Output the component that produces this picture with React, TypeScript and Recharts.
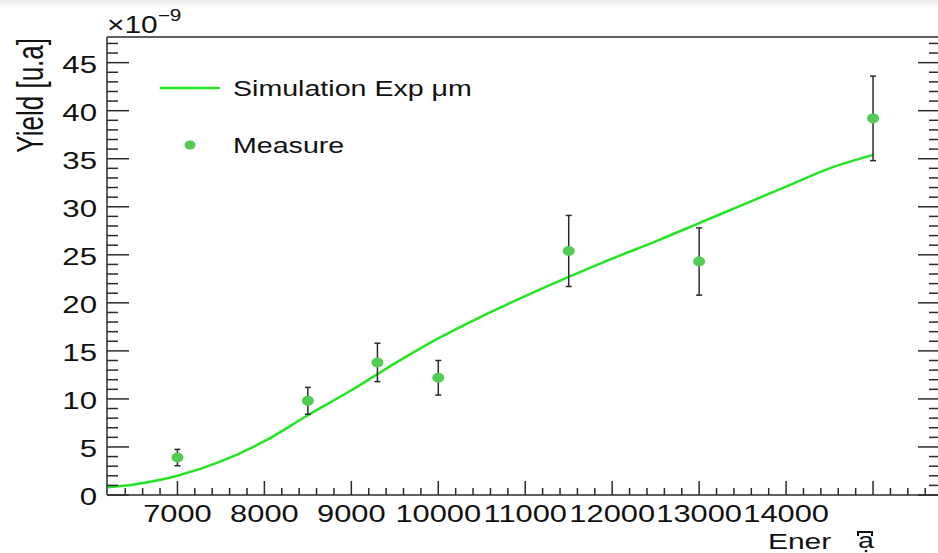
import React from "react";
import { ComposedChart, Line, Scatter, ErrorBar, XAxis, YAxis, Legend } from "recharts";

// simulation curve (units of 1e-9)
const simEnergy = [6200, 6500, 7000, 7500, 8000, 8500, 9000, 9500, 10000, 10500, 11000, 11500, 12000, 12500, 13000, 13500, 14000, 14500, 15000];
const simYield = [0.8, 1.1, 2.0, 3.5, 5.6, 8.3, 10.9, 13.7, 16.3, 18.6, 20.7, 22.7, 24.6, 26.4, 28.3, 30.2, 32.1, 34.0, 35.4];

// measured points with symmetric errors
const measEnergy = [7000, 8500, 9300, 10000, 11500, 13000, 15000];
const measYield = [3.9, 9.8, 13.8, 12.2, 25.4, 24.3, 39.2];
const measError = [0.85, 1.4, 2.0, 1.8, 3.7, 3.5, 4.4];

const xLabels = [7000, 8000, 9000, 10000, 11000, 12000, 13000, 14000];
const yLabels = [0, 5, 10, 15, 20, 25, 30, 35, 40, 45];

const simData = simEnergy.map((x, i) => ({ x, y: simYield[i] }));
const measData = measEnergy.map((x, i) => ({ x, y: measYield[i], err: measError[i] }));

// minor tick positions (ROOT style: 5 divisions per major)
const xTicks: number[] = [];
for (let v = 6400; v <= 15600; v += 200) xTicks.push(v);
const yTicks: number[] = [];
for (let v = 0; v <= 47; v += 1) yTicks.push(v);

const AXIS = "#2b2b2b";
const SIM = "#22e622";
const MEAS = "#52cc52";
const FONT = "'Liberation Sans', Arial, Helvetica, sans-serif";
const SX = 1.3; // text in the reference is stretched horizontally

const txt = (x: number, y: number, size: number, anchor: string, s: React.ReactNode, rot = 0, sx = SX) => (
  <text
    transform={`translate(${x},${y}) scale(${sx},1)${rot ? ` rotate(${rot})` : ""}`}
    textAnchor={anchor as any}
    fontSize={size}
    fontFamily={FONT}
    fill="#111"
  >
    {s}
  </text>
);

const BottomTick = ({ x, y, payload }: any) => {
  const v = payload.value;
  const major = v % 1000 === 0;
  return (
    <g>
      <line x1={x} x2={x} y1={y} y2={y - (major ? 14 : 7)} stroke={AXIS} strokeWidth={1.5} />
      {xLabels.includes(v) && txt(x, y + 27, 23, "middle", String(v), 0, 1.34)}
    </g>
  );
};

const TopTick = ({ x, y, payload }: any) => {
  const major = payload.value % 1000 === 0;
  return <line x1={x} x2={x} y1={y} y2={y + (major ? 14 : 7)} stroke={AXIS} strokeWidth={1.5} />;
};

const LeftTick = ({ x, y, payload }: any) => {
  const v = payload.value;
  const major = v % 5 === 0;
  return (
    <g>
      <line x1={x} x2={x + (major ? 22 : 11)} y1={y} y2={y} stroke={AXIS} strokeWidth={1.5} />
      {yLabels.includes(v) && txt(x - 10, y + 10, 24, "end", String(v))}
    </g>
  );
};

const RightTick = ({ x, y, payload }: any) => {
  const major = payload.value % 5 === 0;
  return <line x1={x} x2={x - (major ? 22 : 11)} y1={y} y2={y} stroke={AXIS} strokeWidth={1.5} />;
};

const MeasDot = ({ cx, cy }: any) => <ellipse cx={cx} cy={cy} rx={6} ry={5} fill={MEAS} />;

const LegendBox = ({ payload }: any) => {
  const items = [...(payload || [])].sort((a: any, b: any) => (a.type === "line" ? -1 : 0) - (b.type === "line" ? -1 : 0));
  return (
    <svg width={360} height={100} style={{ display: "block" }}>
      {items.map((p: any, i: number) => {
        const cy = 28 + i * 57;
        return (
          <g key={i}>
            {p.type === "line" ? (
              <line x1={10} x2={70} y1={cy} y2={cy} stroke={SIM} strokeWidth={2.5} />
            ) : (
              <ellipse cx={40} cy={cy} rx={5.5} ry={4.5} fill={MEAS} />
            )}
            {txt(83, cy + 8, 22, "start", p.value)}
          </g>
        );
      })}
    </svg>
  );
};

export default function App() {
  return (
    <div style={{ position: "absolute", left: 0, top: 0, width: 938, height: 553, overflow: "hidden", background: "#fff" }}>
      <div style={{ position: "absolute", left: 0, top: 0, width: 938, height: 9, background: "linear-gradient(#ececec, #ffffff)" }} />
      <ComposedChart width={942} height={553} margin={{ top: 36, right: 1, bottom: 57, left: 106 }}>
        <XAxis xAxisId="b" dataKey="x" type="number" domain={[6190, 15770]} allowDataOverflow ticks={xTicks} interval={0}
          height={1} tickSize={0} tickMargin={0} tickLine={false} tick={BottomTick} axisLine={{ stroke: AXIS, strokeWidth: 1.5 }} />
        <XAxis xAxisId="t" orientation="top" type="number" domain={[6190, 15770]} allowDataOverflow ticks={xTicks} interval={0}
          height={1} tickSize={0} tickMargin={0} tickLine={false} tick={TopTick} axisLine={{ stroke: AXIS, strokeWidth: 1.5 }} />
        <YAxis yAxisId="l" dataKey="y" type="number" domain={[0, 47.67]} allowDataOverflow ticks={yTicks} interval={0}
          width={1} tickSize={0} tickMargin={0} tickLine={false} tick={LeftTick} axisLine={{ stroke: AXIS, strokeWidth: 1.5 }} />
        <YAxis yAxisId="r" orientation="right" type="number" domain={[0, 47.67]} allowDataOverflow ticks={yTicks} interval={0}
          width={1} tickSize={0} tickMargin={0} tickLine={false} tick={RightTick} axisLine={{ stroke: AXIS, strokeWidth: 1.5 }} />
        <Line data={simData} xAxisId="b" yAxisId="l" dataKey="y" type="monotone" stroke={SIM} strokeWidth={2.5}
          dot={false} isAnimationActive={false} name="Simulation Exp μm" legendType="line" />
        <Scatter data={measData} xAxisId="b" yAxisId="l" dataKey="y" fill={MEAS} shape={MeasDot}
          isAnimationActive={false} name="Measure" legendType="circle">
          <ErrorBar dataKey="err" direction="y" width={3} stroke={AXIS} strokeWidth={1.5} />
        </Scatter>
        <Legend layout="vertical" align="center" verticalAlign="middle" content={LegendBox}
          wrapperStyle={{ left: 150, top: 60, width: 360 }} />
      </ComposedChart>
      <svg width={938} height={553} style={{ position: "absolute", left: 0, top: 0, pointerEvents: "none" }}>
        {txt(43, 38, 26, "end", "Yield [u.a]", -90, 1.4)}
        {txt(107, 33, 23, "start", <>
          ×10<tspan fontSize={16} dy={-12}>−9</tspan>
        </>)}
        {txt(768, 549, 22, "start", "Ener", 0, 1.36)}
        {txt(858, 548, 22, "start", "a")}
        <path d="M858,536 L858,532 L872,532 L872,536" fill="none" stroke="#111" strokeWidth={2} />
        <circle cx={866} cy={551} r={1.3} fill="#111" />
      </svg>
    </div>
  );
}
